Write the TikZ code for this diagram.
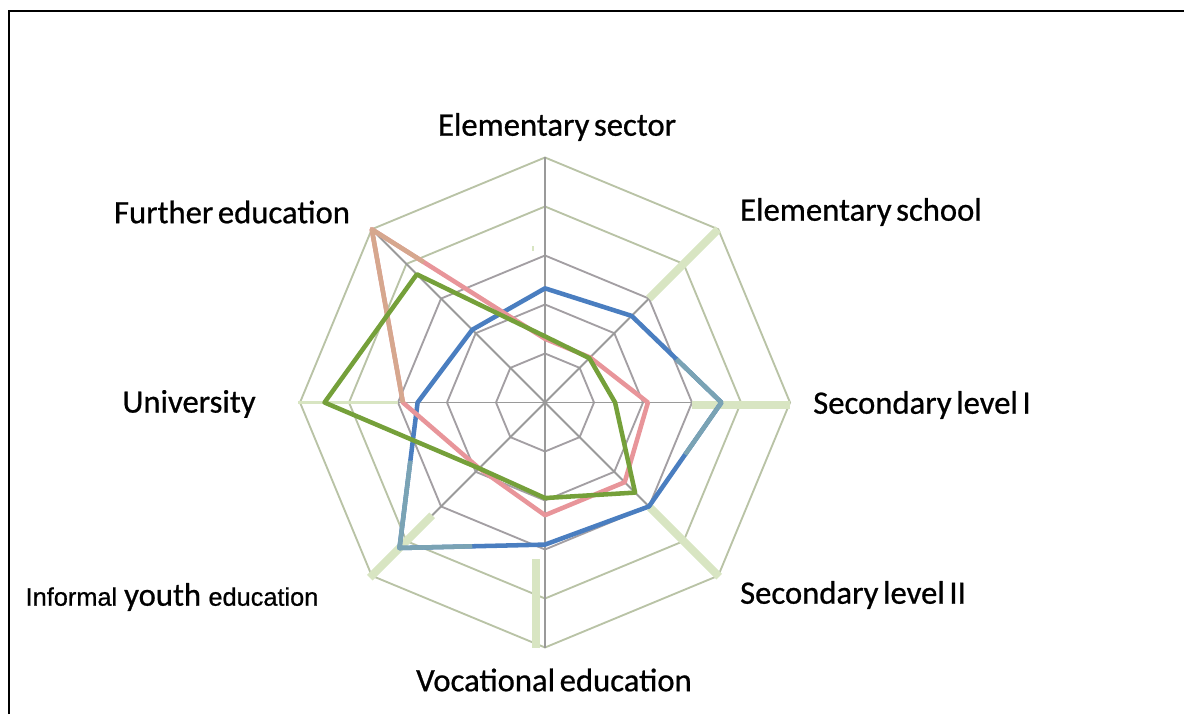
\documentclass[tikz,border=0pt]{standalone}
\usepackage{fontspec}
\setmainfont{Carlito}
\newfontfamily\lblfont{Carlito}[FakeBold=0.7]
\newfontfamily\arialfont{Liberation Sans}[FakeBold=0.7]
\newcommand\lblsetup{\lblfont\fontsize{24.5}{28}\selectfont\spaceskip 0.14em plus 0.05em\relax}
\usetikzlibrary{calc}
\definecolor{gridgrey}{HTML}{A39FA3}
\definecolor{gridgreen}{HTML}{B9C3A6}
\definecolor{spokegrey}{HTML}{9A9A9A}
\definecolor{hiliteg}{HTML}{D8E5C2}
\definecolor{seriesblue}{HTML}{4A7EC0}
\definecolor{seriesteal}{HTML}{7AA3B4}
\definecolor{seriespink}{HTML}{E8959A}
\definecolor{seriestan}{HTML}{D6A78E}
\definecolor{seriesgreen}{HTML}{75A03A}
\tikzset{
  ringin/.style={draw=gridgrey, line width=1.4pt},
  ringout/.style={draw=gridgreen, line width=1.4pt},
  spoke/.style={draw=spokegrey, line width=1.4pt},
  hilite/.style={draw=hiliteg, line width=6pt},
  series/.style={line width=3.4pt, line join=round},
  lbl/.style={inner sep=0pt, font=\lblsetup},
  frame/.style={line width=1.3pt}
}

\begin{document}
\begin{tikzpicture}[x=0.75pt,y=0.75pt]
  \useasboundingbox (0,0) rectangle (1184,714);
  \def\u{49}

  % frame of the chart area
  \draw[frame] (9,0) -- (9,703) -- (1184,703);

  \begin{scope}[shift={(545,311.5)}]
    % rings and spokes
    \foreach \r in {1,2,3} {
      \draw[ringin] (90:\r*\u) \foreach \k in {1,...,7} { -- ({90-45*\k}:\r*\u) } -- cycle;
    }
    \foreach \r in {4,5} {
      \draw[ringout] (90:\r*\u) \foreach \k in {1,...,7} { -- ({90-45*\k}:\r*\u) } -- cycle;
    }
    \foreach \k in {0,...,7} {
      \coordinate (ax\k) at ({90-45*\k}:5*\u);
      \draw[spoke] (0,0) -- (ax\k);
    }

    % light green marks on the outer spokes
    \draw[hilite] (45:3*\u) -- (45:5*\u);
    \draw[hilite] ([yshift=-2]0:3*\u) -- ([yshift=-2]0:5*\u);
    \draw[hilite] ([shift={(1,-1)}]-45:3*\u) -- ([shift={(1,-1)}]-45:5*\u);
    \draw[hilite] ([xshift=-7]-90:3.2*\u) -- ([xshift=-7]-90:5*\u);
    \draw[hilite] ([shift={(-2,-2)}]-135:3.2*\u) -- ([shift={(-2,-2)}]-135:5*\u);
    \draw[hiliteg, line width=2pt] (180:3*\u) -- (180:5.05*\u);
    \draw[hiliteg, line width=1.5pt] ([xshift=-9]90:3.1*\u) -- ([xshift=-9]90:3.2*\u);

    % data points
    \foreach \v [count=\i from 0] in {2.33,2.5,3.6,3,2.9,4.2,2.6,2.1}
      \coordinate (b\i) at ({90-45*\i}:\v*\u);
    \foreach \v [count=\i from 0] in {1.3,1.3,2.1,2.3,2.3,1.9,2.9,5}
      \coordinate (p\i) at ({90-45*\i}:\v*\u);
    \foreach \v [count=\i from 0] in {1.35,1.28,1.43,2.6,1.95,1.9,4.5,3.7}
      \coordinate (g\i) at ({90-45*\i}:\v*\u);

    % blue series
    \draw[series, seriesblue] (b0) -- (b1) -- (b2) -- (b3) -- (b4) -- (b5) -- (b6) -- (b7) -- cycle;
    \draw[series, seriesteal] ($(b1)!0.5!(b2)$) -- (b2) -- ($(b2)!0.5!(b3)$);
    \draw[series, seriesteal] ($(b4)!0.5!(b5)$) -- (b5) -- ($(b5)!0.6!(b6)$);

    % pink series
    \draw[series, seriespink] (p0) -- (p1) -- (p2) -- (p3) -- (p4) -- (p5) -- (p6) -- (p7) -- cycle;
    \draw[series, seriestan] (p6) -- (p7) -- ($(p7)!0.3!(p0)$);

    % green series
    \draw[series, seriesgreen] (g0) -- (g1) -- (g2) -- (g3) -- (g4) -- (g5) -- (g6) -- (g7) -- cycle;
  \end{scope}

  % axis labels
  \node[lbl] (elsector) at (557,587) {Elementary sector};
  \node[lbl] (elschool) at (861,502) {Elementary school};
  \node[lbl] (seclone) at (922,309) {Secondary level I};
  \node[lbl] (secltwo) at (853,119) {Secondary level II};
  \node[lbl] (vocational) at (554,34) {Vocational education};
  \node[inner sep=0pt] (informal) at (172,117)
    {\arialfont\fontsize{19}{24}\selectfont Informal \lblfont\fontsize{24.5}{28}\selectfont youth \arialfont\fontsize{19}{24}\selectfont education};
  \node[lbl] (university) at (189,310) {University};
  \node[lbl] (further) at (232,502) {Further education};
\end{tikzpicture}
\end{document}
